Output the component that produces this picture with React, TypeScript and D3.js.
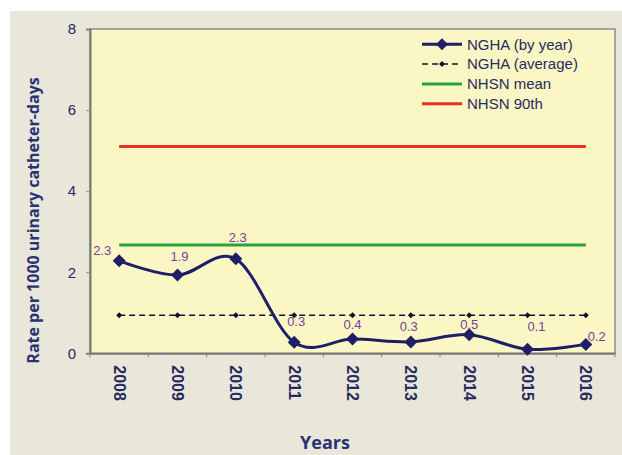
import { useEffect, useRef } from "react";
import * as d3 from "d3";

// chart data
const years = ["2008", "2009", "2010", "2011", "2012", "2013", "2014", "2015", "2016"];
const byYear = [2.28, 1.93, 2.33, 0.27, 0.35, 0.28, 0.46, 0.1, 0.22];
const byYearLabels = ["2.3", "1.9", "2.3", "0.3", "0.4", "0.3", "0.5", "0.1", "0.2"];
const average = [0.94, 0.94, 0.94, 0.94, 0.94, 0.94, 0.94, 0.94, 0.94];
const nhsnMean = [2.67, 2.67, 2.67, 2.67, 2.67, 2.67, 2.67, 2.67, 2.67];
const nhsn90 = [5.1, 5.1, 5.1, 5.1, 5.1, 5.1, 5.1, 5.1, 5.1];
const yTicks = [0, 2, 4, 6, 8];
const legendNames = ["NGHA (by year)", "NGHA (average)", "NHSN mean", "NHSN 90th"];

// label nudges (px) the way they were placed by hand in the original
const labelDx = [-17, 2, 2, 2, 0, -2, 0, 9, 11];
const labelDy = [-10, -19, -21, -21, -15, -15, -10, -23, -8];

const NAVY = "#1e1f66";
const TEXT = "#262a5c";
const GREEN = "#27a33b";
const RED = "#ee2d20";
const PURPLE = "#7a3d9c";
const FONT = "'Liberation Sans', Arial, sans-serif";

const diamond = (r) => `M0,${-r}L${r},0L0,${r}L${-r},0Z`;

const App = () => {
  const svgRef = useRef();

  useEffect(() => {
    const svg = d3.select(svgRef.current);
    svg.selectAll("*").remove();

    const W = 622, H = 455;
    const left = 90, right = 615, top = 29, bottom = 353.3;

    // backgrounds
    svg.append("rect").attr("x", 10).attr("y", 11).attr("width", W - 10).attr("height", H - 11).attr("fill", "#e9e6da");
    svg.append("rect").attr("x", left).attr("y", top).attr("width", right - left).attr("height", bottom - top)
      .attr("fill", "#fbf7c5").attr("stroke", "#8c8c8c").attr("stroke-width", 1.5);

    const x = d3.scaleBand().domain(years).range([left, right]).padding(0);
    const cx = (d) => x(d) + x.bandwidth() / 2;
    const y = d3.scaleLinear().domain([0, 8]).range([bottom, top]);

    // y axis
    const yAxis = d3.axisLeft(y).tickValues(yTicks).tickSize(4).tickPadding(10);
    const gy = svg.append("g").attr("transform", `translate(${left},0)`).call(yAxis);
    gy.select(".domain").attr("stroke", "#777").attr("stroke-width", 2);
    gy.selectAll(".tick line").attr("stroke", "#888");
    gy.selectAll("text").attr("fill", TEXT).style("font", `15px ${FONT}`);

    // x axis: labels at band centres, ticks at band edges
    const xAxis = d3.axisBottom(x).tickSize(0);
    const gx = svg.append("g").attr("transform", `translate(0,${bottom})`).call(xAxis);
    gx.select(".domain").attr("stroke", "#777").attr("stroke-width", 2);
    gx.selectAll("text")
      .attr("x", 0).attr("y", 0).attr("dy", "0.35em")
      .attr("text-anchor", "start")
      .attr("transform", "translate(0,12) rotate(90)")
      .attr("fill", TEXT)
      .style("font", `bold 16px ${FONT}`);
    const edges = years.map((d) => x(d)).concat([right]);
    svg.append("g").selectAll("line").data(edges).join("line")
      .attr("x1", (d) => d).attr("x2", (d) => d)
      .attr("y1", bottom).attr("y2", bottom + 4)
      .attr("stroke", "#888");

    // axis titles
    svg.append("text")
      .attr("transform", `translate(39,220.5) rotate(-90)`)
      .attr("text-anchor", "middle")
      .attr("fill", "#2b3274")
      .style("font", `bold 16px 'Open Sans', sans-serif`)
      .text("Rate per 1000 urinary catheter-days");
    svg.append("text")
      .attr("x", 325).attr("y", 449)
      .attr("text-anchor", "middle")
      .attr("fill", "#2b3274")
      .style("font", `bold 18px 'Open Sans', sans-serif`)
      .text("Years");

    const flat = d3.line().x((d, i) => cx(years[i])).y((d) => y(d));

    // reference lines
    svg.append("path").datum(nhsn90).attr("d", flat).attr("fill", "none").attr("stroke", RED).attr("stroke-width", 3);
    svg.append("path").datum(nhsnMean).attr("d", flat).attr("fill", "none").attr("stroke", GREEN).attr("stroke-width", 3);
    svg.append("path").datum(average).attr("d", flat).attr("fill", "none")
      .attr("stroke", "#111133").attr("stroke-width", 1.5).attr("stroke-dasharray", "6,4");
    svg.append("g").selectAll("path").data(average).join("path")
      .attr("d", diamond(3))
      .attr("transform", (d, i) => `translate(${cx(years[i])},${y(d)})`)
      .attr("fill", "#111133");

    // NGHA by year
    const smooth = d3.line().x((d, i) => cx(years[i])).y((d) => y(d)).curve(d3.curveCardinal);
    svg.append("path").datum(byYear).attr("d", smooth).attr("fill", "none").attr("stroke", NAVY).attr("stroke-width", 3);
    svg.append("g").selectAll("path").data(byYear).join("path")
      .attr("d", diamond(6.5))
      .attr("transform", (d, i) => `translate(${cx(years[i])},${y(d)})`)
      .attr("fill", NAVY);
    svg.append("g").selectAll("text").data(byYear).join("text")
      .attr("x", (d, i) => cx(years[i]) + labelDx[i])
      .attr("y", (d, i) => y(d) + labelDy[i])
      .attr("dy", "0.35em")
      .attr("text-anchor", "middle")
      .attr("fill", PURPLE)
      .style("font", `13px ${FONT}`)
      .text((d, i) => byYearLabels[i]);

    // legend
    const lx1 = 422, lx2 = 462, ly0 = 44.3, step = 19.8;
    const lg = svg.append("g");
    legendNames.forEach((name, i) => {
      const ly = ly0 + i * step;
      const row = lg.append("g");
      if (i === 0) {
        row.append("line").attr("x1", lx1).attr("x2", lx2).attr("y1", ly).attr("y2", ly).attr("stroke", NAVY).attr("stroke-width", 3);
        row.append("path").attr("d", diamond(6)).attr("transform", `translate(${(lx1 + lx2) / 2},${ly})`).attr("fill", NAVY);
      } else if (i === 1) {
        row.append("line").attr("x1", lx1).attr("x2", lx2).attr("y1", ly).attr("y2", ly)
          .attr("stroke", "#111133").attr("stroke-width", 1.5).attr("stroke-dasharray", "6,4");
        row.append("path").attr("d", diamond(3)).attr("transform", `translate(${(lx1 + lx2) / 2},${ly})`).attr("fill", "#111133");
      } else {
        row.append("line").attr("x1", lx1).attr("x2", lx2).attr("y1", ly).attr("y2", ly)
          .attr("stroke", i === 2 ? GREEN : RED).attr("stroke-width", 3);
      }
      row.append("text").attr("x", 467).attr("y", ly).attr("dy", "0.35em")
        .attr("fill", TEXT).style("font", `15px ${FONT}`).text(name);
    });
  }, []);

  return (
    <svg ref={svgRef} width={622} height={455}
      style={{ position: "absolute", left: 0, top: 0, display: "block" }} />
  );
};

export default App;
